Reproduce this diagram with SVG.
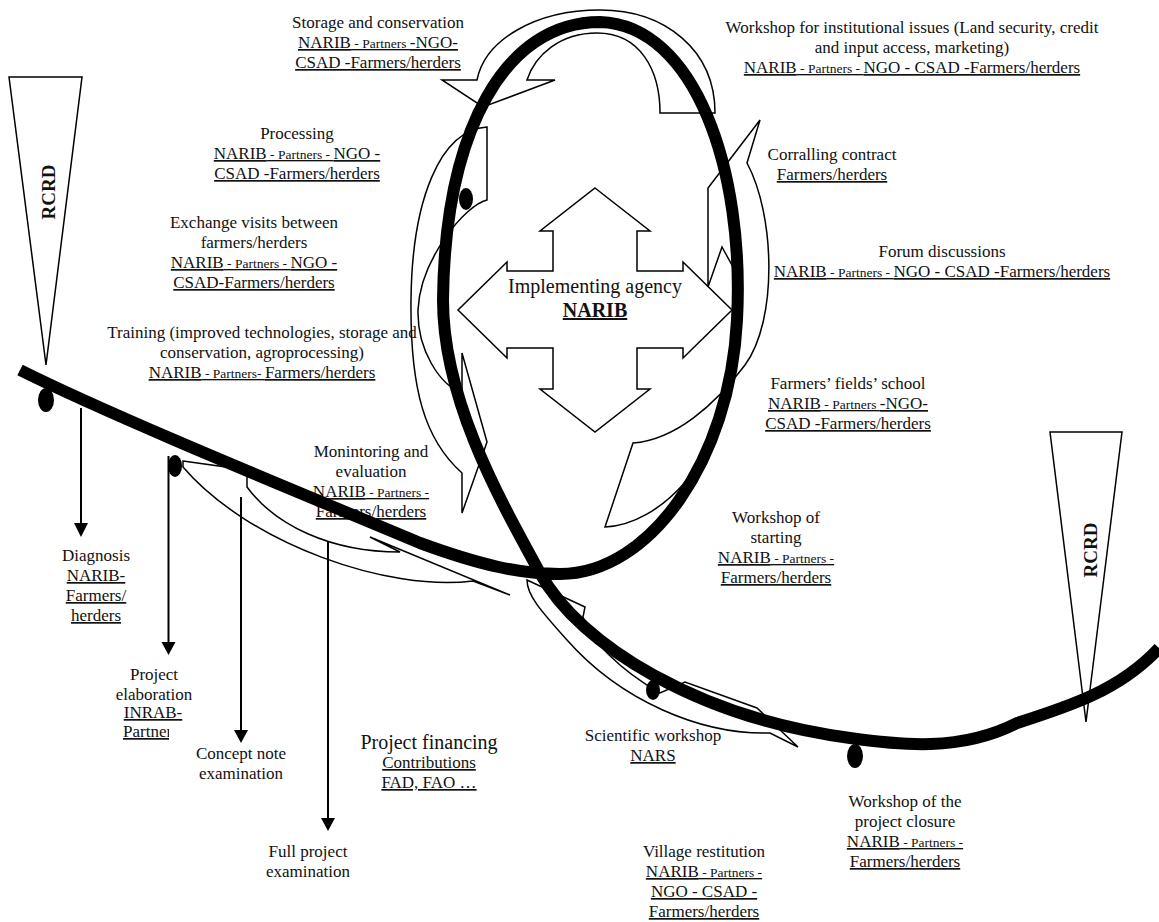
<svg xmlns="http://www.w3.org/2000/svg" width="1159" height="922" viewBox="0 0 1159 922">
<style>
text { font-family: "Liberation Serif", "Times New Roman", serif; font-size: 17px; fill: #111; text-anchor: middle; }
.u { text-decoration: underline; }
.s { font-size: 13.5px; }
.big { font-size: 20px; }
.b { font-weight: bold; }
.rc { font-weight: bold; font-size: 19px; }
.co { fill: none; stroke: #000; stroke-width: 1.5; stroke-linejoin: miter; }
.main { fill: none; stroke: #000; stroke-width: 12; }
.ln { stroke: #000; stroke-width: 2; fill: none; }
.hd { fill: #000; }
.dot { fill: #000; }
</style>
<defs>
<clipPath id="clipE"><rect x="100" y="720" width="69" height="25"/></clipPath>
</defs>

<g id="rcrd-left">
<polygon class="co" points="9,77 82,77 46,365"/>
<text class="rc" transform="translate(55,192) rotate(-90)">RCRD</text>
</g>
<g id="rcrd-right">
<polygon class="co" points="1050,432 1122,432 1086,722"/>
<text class="rc" transform="translate(1097,550) rotate(-90)">RCRD</text>
</g>

<g id="callouts">
<path class="co" d="M 715,113 C 715,50 665,10 600,10 C 535,10 485,40 477,80 L 442,80 L 483,107 L 555,80 L 527,80 C 535,55 560,33 597,33 C 640,33 660,70 660,113 Z"/>
<path class="co" d="M 487,127 L 487,200 C 465,205 420,260 418,310 C 417,350 440,385 462,393 L 462,353 L 487,442 L 462,513 L 462,473 C 425,440 410,390 411,300 C 412,200 440,130 487,127 Z"/>
<path class="co" d="M 708,287 L 708,188 L 760,120 L 747,163 C 775,215 778,320 745,365 C 715,405 675,440 633,443 L 605,527 C 660,525 720,460 733,380 L 733,267 L 722,247 Z"/>
<path class="co" d="M 183,461 L 247,470 L 247,487 C 275,525 330,552 400,552 L 370,537 L 510,595 L 473,581 C 390,592 250,545 183,467 Z"/>
<path class="co" d="M 527,580 L 585,607 L 583,617 C 590,640 620,670 660,693 L 685,682 L 757,708 L 798,747 L 770,733 C 700,735 620,700 567,640 C 540,610 527,595 527,580 Z"/>
</g>

<g id="storage">
<text x="378" y="28">Storage and conservation</text>
<text class="u" x="378" y="48">NARIB<tspan class="s"> - Partners </tspan>-NGO-</text>
<text class="u" x="378" y="68">CSAD -Farmers/herders</text>
</g>
<g id="institutional">
<text x="912" y="33">Workshop for institutional issues (Land security, credit</text>
<text x="912" y="53">and input access, marketing)</text>
<text class="u" x="912" y="73">NARIB<tspan class="s"> - Partners - </tspan>NGO - CSAD -Farmers/herders</text>
</g>
<g id="processing">
<text x="297" y="139">Processing</text>
<text class="u" x="297" y="159">NARIB<tspan class="s"> - Partners - </tspan>NGO -</text>
<text class="u" x="297" y="179">CSAD -Farmers/herders</text>
</g>
<g id="corralling">
<text x="832" y="160">Corralling contract</text>
<text class="u" x="832" y="180">Farmers/herders</text>
</g>
<g id="exchange">
<text x="254" y="228">Exchange visits between</text>
<text x="254" y="248">farmers/herders</text>
<text class="u" x="254" y="268">NARIB<tspan class="s"> - Partners - </tspan>NGO -</text>
<text class="u" x="254" y="288">CSAD-Farmers/herders</text>
</g>
<g id="forum">
<text x="942" y="257">Forum discussions</text>
<text class="u" x="942" y="277">NARIB<tspan class="s"> - Partners - </tspan>NGO - CSAD -Farmers/herders</text>
</g>
<g id="agency">
<polygon class="co" points="595,188 650,231 637,231 637,271 683,271 683,262 732,310 683,358 683,348 637,348 637,389 650,389 595,432 540,389 553,389 553,348 507,348 507,358 458,310 507,262 507,271 553,271 553,231 540,231"/>
<text class="big" x="595" y="293">Implementing agency</text>
<text class="big b u" x="595" y="317">NARIB</text>
</g>
<g id="training">
<text x="262" y="338">Training (improved technologies, storage and</text>
<text x="262" y="358">conservation, agroprocessing)</text>
<text class="u" x="262" y="378">NARIB<tspan class="s"> - Partners- </tspan>Farmers/herders</text>
</g>
<g id="ffs">
<text x="848" y="389">Farmers’ fields’ school</text>
<text class="u" x="848" y="409">NARIB<tspan class="s"> - Partners </tspan>-NGO-</text>
<text class="u" x="848" y="429">CSAD -Farmers/herders</text>
</g>
<g id="monitoring">
<text x="371" y="457">Monintoring and</text>
<text x="371" y="477">evaluation</text>
<text class="u" x="371" y="497">NARIB<tspan class="s"> - Partners - </tspan></text>
<text class="u" x="371" y="517">Farmers/herders</text>
</g>
<g id="starting">
<text x="776" y="523">Workshop of</text>
<text x="776" y="543">starting</text>
<text class="u" x="776" y="563">NARIB<tspan class="s"> - Partners - </tspan></text>
<text class="u" x="776" y="583">Farmers/herders</text>
</g>
<g id="diagnosis">
<text x="96" y="561">Diagnosis</text>
<text class="u" x="96" y="581">NARIB-</text>
<text class="u" x="96" y="601">Farmers/</text>
<text class="u" x="96" y="621">herders</text>
</g>
<g id="elaboration">
<text x="154" y="680">Project</text>
<text x="154" y="700">elaboration</text>
<text class="u" x="153" y="718">INRAB-</text>
<text class="u" x="123" y="737" style="text-anchor:start" clip-path="url(#clipE)">Partners</text>
</g>
<g id="concept">
<text x="241" y="759">Concept note</text>
<text x="241" y="779">examination</text>
</g>
<g id="financing">
<text class="big" x="429" y="749">Project financing</text>
<text class="u" x="429" y="768">Contributions</text>
<text class="u" x="429" y="788">FAD, FAO …</text>
</g>
<g id="scientific">
<text x="653" y="741">Scientific workshop</text>
<text class="u" x="653" y="761">NARS</text>
</g>
<g id="closure">
<text x="905" y="807">Workshop of the</text>
<text x="905" y="827">project closure</text>
<text class="u" x="905" y="847">NARIB<tspan class="s"> - Partners - </tspan></text>
<text class="u" x="905" y="867">Farmers/herders</text>
</g>
<g id="full">
<text x="308" y="857">Full project</text>
<text x="308" y="877">examination</text>
</g>
<g id="village">
<text x="704" y="857">Village restitution</text>
<text class="u" x="704" y="877">NARIB<tspan class="s"> - Partners - </tspan></text>
<text class="u" x="704" y="897">NGO - CSAD -</text>
<text class="u" x="704" y="917">Farmers/herders</text>
</g>

<g id="connectors">
<path class="main" d="M 20,370 C 120,420 330,505 420,543 C 480,565 520,574 560,574 C 650,574 730,460 737,320 C 745,170 695,25 600,22 C 505,22 445,130 443,300 C 443,400 500,500 540,573 C 580,646 700,718 850,738 C 900,745 960,752 1017,723 C 1070,706 1120,690 1159,648"/>
<ellipse class="dot" cx="46" cy="400" rx="8" ry="12"/>
<ellipse class="dot" cx="175" cy="466" rx="7" ry="11"/>
<ellipse class="dot" cx="466" cy="199" rx="7" ry="11"/>
<ellipse class="dot" cx="653" cy="690" rx="7" ry="10"/>
<ellipse class="dot" cx="855" cy="756" rx="8" ry="12"/>
<line class="ln" x1="81" y1="408" x2="81" y2="524"/>
<polygon class="hd" points="74,523 88,523 81,537"/>
<line class="ln" x1="168.5" y1="456" x2="168.5" y2="643"/>
<polygon class="hd" points="161.5,642 175.5,642 168.5,655"/>
<line class="ln" x1="241" y1="497" x2="241" y2="731"/>
<polygon class="hd" points="234,730 248,730 241,743"/>
<line class="ln" x1="328" y1="541" x2="328" y2="819"/>
<polygon class="hd" points="321,818 335,818 328,831"/>
</g>
</svg>
